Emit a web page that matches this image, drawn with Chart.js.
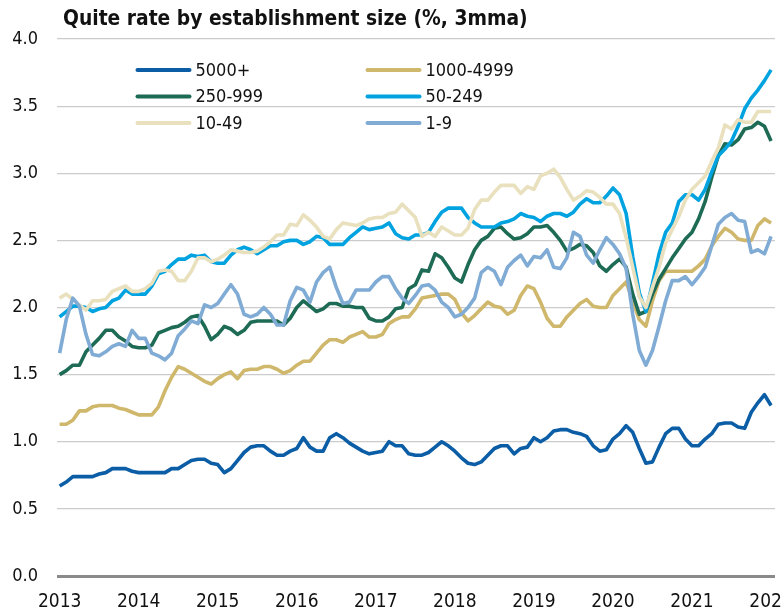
<!DOCTYPE html>
<html>
<head>
<meta charset="utf-8">
<script src="https://cdn.jsdelivr.net/npm/chart.js@4.4.0/dist/chart.umd.min.js"></script>
<style>
html,body{margin:0;padding:0;background:#fff;overflow:hidden;width:782px;height:613px;}
#c{position:absolute;left:0;top:0;}
</style>
</head>
<body>
<canvas id="c" width="800" height="613" style="width:800px;height:613px"></canvas>
<script>
const TITLE = 'Quite rate by establishment size (%, 3mma)';
const yearTicks = ['2013','2014','2015','2016','2017','2018','2019','2020','2021','2022'];
const seriesNames = ['5000+','1000-4999','250-999','50-249','10-49','1-9'];
const seriesColors = ['#0B5DA6','#CFB76C','#1E6B55','#00A3E0','#E9E0BE','#7FABD5'];

const s5000 = [0.67,0.70,0.74,0.74,0.74,0.74,0.76,0.77,0.80,0.80,0.80,0.78,
0.77,0.77,0.77,0.77,0.77,0.80,0.80,0.83,0.86,0.87,0.87,0.84,
0.83,0.77,0.80,0.86,0.92,0.96,0.97,0.97,0.93,0.90,0.90,0.93,
0.95,1.03,0.96,0.93,0.93,1.03,1.06,1.03,0.99,0.96,0.93,0.91,
0.92,0.93,1.00,0.97,0.97,0.91,0.90,0.90,0.92,0.96,1.00,0.97,
0.93,0.88,0.84,0.83,0.85,0.90,0.95,0.97,0.97,0.91,0.95,0.96,
1.03,1.00,1.03,1.08,1.09,1.09,1.07,1.06,1.04,0.97,0.93,0.94,
1.02,1.06,1.12,1.07,0.95,0.84,0.85,0.96,1.06,1.10,1.10,1.02,
0.97,0.97,1.02,1.06,1.13,1.14,1.14,1.11,1.10,1.22,1.29,1.35,
1.27];
const s1000 = [1.13,1.13,1.16,1.23,1.23,1.26,1.27,1.27,1.27,1.25,1.24,1.22,
1.20,1.20,1.20,1.26,1.38,1.48,1.56,1.54,1.51,1.48,1.45,1.43,
1.47,1.50,1.52,1.47,1.53,1.54,1.54,1.56,1.56,1.54,1.51,1.53,
1.57,1.60,1.60,1.66,1.72,1.76,1.76,1.74,1.78,1.80,1.82,1.78,
1.78,1.80,1.88,1.91,1.93,1.93,1.99,2.07,2.08,2.09,2.10,2.10,
2.06,1.96,1.90,1.94,1.99,2.04,2.01,2.00,1.95,1.98,2.09,2.16,
2.14,2.04,1.92,1.86,1.86,1.93,1.98,2.03,2.06,2.01,2.00,2.00,
2.09,2.14,2.19,2.05,1.91,1.86,2.05,2.20,2.27,2.27,2.27,2.27,
2.27,2.31,2.36,2.46,2.53,2.59,2.56,2.51,2.50,2.50,2.61,2.66,
2.63];
const s250 = [1.50,1.53,1.57,1.57,1.67,1.72,1.77,1.83,1.83,1.78,1.75,1.71,
1.70,1.70,1.72,1.81,1.83,1.85,1.86,1.89,1.93,1.94,1.86,1.76,
1.80,1.86,1.84,1.80,1.83,1.89,1.90,1.90,1.90,1.90,1.87,1.92,
2.00,2.05,2.01,1.97,1.99,2.03,2.03,2.01,2.01,2.00,2.00,1.92,
1.90,1.90,1.93,1.99,2.00,2.14,2.17,2.28,2.27,2.40,2.37,2.30,
2.22,2.19,2.32,2.43,2.50,2.53,2.59,2.60,2.55,2.51,2.52,2.55,
2.60,2.60,2.61,2.56,2.50,2.42,2.44,2.47,2.46,2.41,2.31,2.27,
2.32,2.36,2.30,2.10,1.95,1.97,2.10,2.21,2.29,2.37,2.44,2.51,
2.56,2.66,2.79,2.97,3.13,3.22,3.21,3.25,3.33,3.34,3.38,3.35,
3.24];
const s50 = [1.93,1.97,2.01,2.01,2.00,1.97,1.99,2.00,2.05,2.07,2.13,2.10,
2.10,2.10,2.16,2.25,2.27,2.32,2.36,2.36,2.39,2.38,2.39,2.34,
2.33,2.33,2.39,2.43,2.45,2.43,2.40,2.43,2.46,2.46,2.49,2.50,
2.50,2.47,2.49,2.53,2.52,2.47,2.47,2.47,2.52,2.56,2.60,2.58,
2.59,2.60,2.63,2.55,2.52,2.51,2.54,2.54,2.56,2.64,2.71,2.74,
2.74,2.74,2.67,2.63,2.60,2.60,2.60,2.63,2.64,2.66,2.70,2.68,
2.67,2.64,2.68,2.70,2.70,2.68,2.71,2.77,2.81,2.78,2.78,2.83,
2.89,2.84,2.70,2.38,2.11,1.97,2.18,2.40,2.56,2.63,2.79,2.84,
2.84,2.80,2.88,3.01,3.13,3.18,3.24,3.35,3.48,3.56,3.62,3.69,
3.77];
const s10 = [2.07,2.10,2.06,2.02,1.98,2.05,2.05,2.06,2.12,2.14,2.16,2.12,
2.12,2.14,2.18,2.27,2.28,2.27,2.20,2.20,2.27,2.37,2.37,2.34,
2.36,2.39,2.43,2.42,2.41,2.41,2.42,2.45,2.49,2.54,2.54,2.62,
2.61,2.69,2.65,2.60,2.53,2.51,2.58,2.63,2.62,2.61,2.63,2.66,
2.67,2.67,2.70,2.71,2.77,2.72,2.67,2.53,2.56,2.53,2.60,2.57,
2.54,2.54,2.59,2.73,2.80,2.80,2.86,2.91,2.91,2.91,2.85,2.90,
2.88,2.98,3.00,3.03,2.97,2.88,2.80,2.83,2.87,2.86,2.82,2.77,
2.77,2.70,2.52,2.30,2.08,2.00,2.15,2.30,2.48,2.58,2.68,2.80,
2.88,2.93,2.98,3.09,3.19,3.36,3.33,3.40,3.38,3.38,3.46,3.46,
3.46];
const s1 = [1.66,1.91,2.07,2.01,1.80,1.65,1.64,1.67,1.71,1.73,1.71,1.83,
1.77,1.77,1.66,1.64,1.61,1.66,1.79,1.84,1.90,1.88,2.02,2.00,
2.03,2.10,2.17,2.10,1.95,1.93,1.95,2.00,1.95,1.87,1.87,2.05,
2.15,2.13,2.04,2.19,2.26,2.30,2.15,2.03,2.04,2.13,2.13,2.13,
2.19,2.23,2.23,2.14,2.07,2.03,2.09,2.16,2.17,2.13,2.04,2.00,
1.93,1.95,2.00,2.07,2.26,2.30,2.27,2.17,2.30,2.35,2.39,2.31,
2.38,2.37,2.43,2.30,2.29,2.37,2.56,2.53,2.39,2.33,2.43,2.52,
2.47,2.40,2.29,1.95,1.68,1.57,1.68,1.86,2.05,2.20,2.20,2.23,
2.17,2.23,2.30,2.46,2.62,2.67,2.70,2.65,2.64,2.41,2.43,2.40,
2.53];

const seriesValues = [s5000, s1000, s250, s50, s10, s1];
const FONT = '"DejaVu Sans Condensed", "Liberation Sans Narrow", "Roboto", sans-serif';

const datasets = seriesNames.map((name, k) => ({
  label: name,
  data: seriesValues[k].map((v, i) => ({x: i, y: v})),
  borderColor: seriesColors[k],
  backgroundColor: seriesColors[k],
  borderWidth: 3.6,
  pointRadius: 0,
  tension: 0,
  fill: false,
  borderJoinStyle: 'round',
  order: seriesNames.length - 1 - k
}));

const overlay = {
  id: 'overlay',
  afterDraw(chart) {
    const ctx = chart.ctx;
    ctx.save();
    ctx.font = 'bold 20.8px ' + FONT;
    ctx.fillStyle = '#111';
    ctx.textAlign = 'left';
    ctx.textBaseline = 'alphabetic';
    ctx.fillText(TITLE, 63, 25);
    chart.data.datasets.forEach((ds, k) => {
      const col = k % 2, row = Math.floor(k / 2);
      const x0 = col === 0 ? 137.5 : 367.5;
      const y = 70 + row * 26.5;
      ctx.strokeStyle = ds.borderColor;
      ctx.lineWidth = 4;
      ctx.lineCap = 'round';
      ctx.beginPath();
      ctx.moveTo(x0, y);
      ctx.lineTo(x0 + 52, y);
      ctx.stroke();
      ctx.font = '18px ' + FONT;
      ctx.fillStyle = '#111';
      ctx.textBaseline = 'middle';
      ctx.fillText(ds.label, x0 + 58, y + 1);
    });
    ctx.restore();
  }
};

new Chart(document.getElementById('c'), {
  type: 'line',
  data: { datasets },
  plugins: [overlay],
  options: {
    responsive: false,
    maintainAspectRatio: false,
    devicePixelRatio: 1,
    animation: false,
    layout: { padding: { top: 39, right: 25, bottom: 0, left: 0 } },
    plugins: { legend: { display: false }, title: { display: false }, tooltip: { enabled: false } },
    scales: {
      x: {
        type: 'linear',
        min: -0.4,
        max: 108.6,
        afterBuildTicks(scale) {
          scale.ticks = yearTicks.map((t, j) => ({ value: j * 12 }));
        },
        afterFit(scale) {
          scale.height = 37;
          scale.paddingLeft = 0;
          scale.paddingRight = 0;
        },
        ticks: {
          autoSkip: false,
          maxRotation: 0,
          padding: 17,
          color: '#111',
          font: { family: FONT, size: 19, lineHeight: 1 },
          callback: (v) => yearTicks[Math.round(v / 12)]
        },
        grid: { display: false, drawTicks: false },
        border: { display: false }
      },
      y: {
        min: 0,
        max: 4,
        afterFit(scale) { scale.width = 57; },
        ticks: {
          stepSize: 0.5,
          padding: 19,
          color: '#111',
          font: { family: FONT, size: 18 },
          callback: (v) => Number(v).toFixed(1)
        },
        grid: {
          drawTicks: false,
          color: (c) => c.tick && c.tick.value === 0 ? '#8a8a8a' : '#cccccc',
          lineWidth: (c) => c.tick && c.tick.value === 0 ? 3 : 1.2
        },
        border: { display: false }
      }
    }
  }
});
</script>
</body>
</html>
